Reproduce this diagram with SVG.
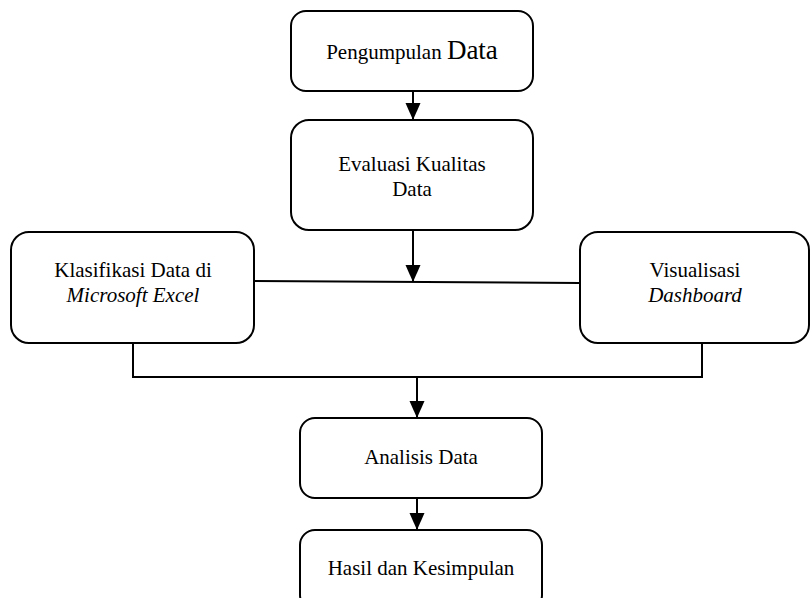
<svg xmlns="http://www.w3.org/2000/svg" width="811" height="598" viewBox="0 0 811 598">
<style>
.box{fill:#fff;stroke:#000;stroke-width:2}
.t{font-family:"Liberation Serif","DejaVu Serif",serif;font-size:21px;fill:#000;text-anchor:middle}
.i{font-family:"Liberation Serif","DejaVu Serif",serif;font-style:italic}
.c{fill:none;stroke:#000;stroke-width:2}
</style>
<defs>
<marker id="a" markerWidth="16" markerHeight="16" refX="17" refY="8" orient="auto" markerUnits="userSpaceOnUse">
<path d="M0,0.5 L17,8 L0,15.5 Z" fill="#000"/>
</marker>
</defs>
<rect width="811" height="598" fill="#fff"/>
<g id="connectors">
<line class="c" x1="413" y1="91" x2="413" y2="120" marker-end="url(#a)"/>
<line class="c" x1="413" y1="230" x2="413" y2="282" marker-end="url(#a)"/>
<line class="c" x1="254" y1="281" x2="580" y2="283"/>
<polyline class="c" points="133,343 133,377 702,377 702,343"/>
<line class="c" x1="417" y1="377" x2="417" y2="418" marker-end="url(#a)"/>
<line class="c" x1="417" y1="498" x2="417" y2="530" marker-end="url(#a)"/>
</g>
<g id="n1">
<rect class="box" x="291" y="11" width="242" height="80" rx="15"/>
<text class="t" x="412" y="59">Pengumpulan <tspan font-size="27">Data</tspan></text>
</g>
<g id="n2">
<rect class="box" x="291" y="120" width="242" height="110" rx="18"/>
<text class="t" x="412" y="171">Evaluasi Kualitas</text>
<text class="t" x="412" y="196">Data</text>
</g>
<g id="n3">
<rect class="box" x="11" y="232" width="243" height="111" rx="18"/>
<text class="t" x="133" y="277">Klasifikasi Data di</text>
<text class="t i" x="133" y="302">Microsoft Excel</text>
</g>
<g id="n4">
<rect class="box" x="580" y="232" width="229" height="111" rx="18"/>
<text class="t" x="695" y="277">Visualisasi</text>
<text class="t i" x="695" y="302">Dashboard</text>
</g>
<g id="n5">
<rect class="box" x="300" y="418" width="242" height="80" rx="15"/>
<text class="t" x="421" y="464">Analisis Data</text>
</g>
<g id="n6">
<rect class="box" x="300" y="530" width="242" height="80" rx="15"/>
<text class="t" x="421" y="575">Hasil dan Kesimpulan</text>
</g>
</svg>
